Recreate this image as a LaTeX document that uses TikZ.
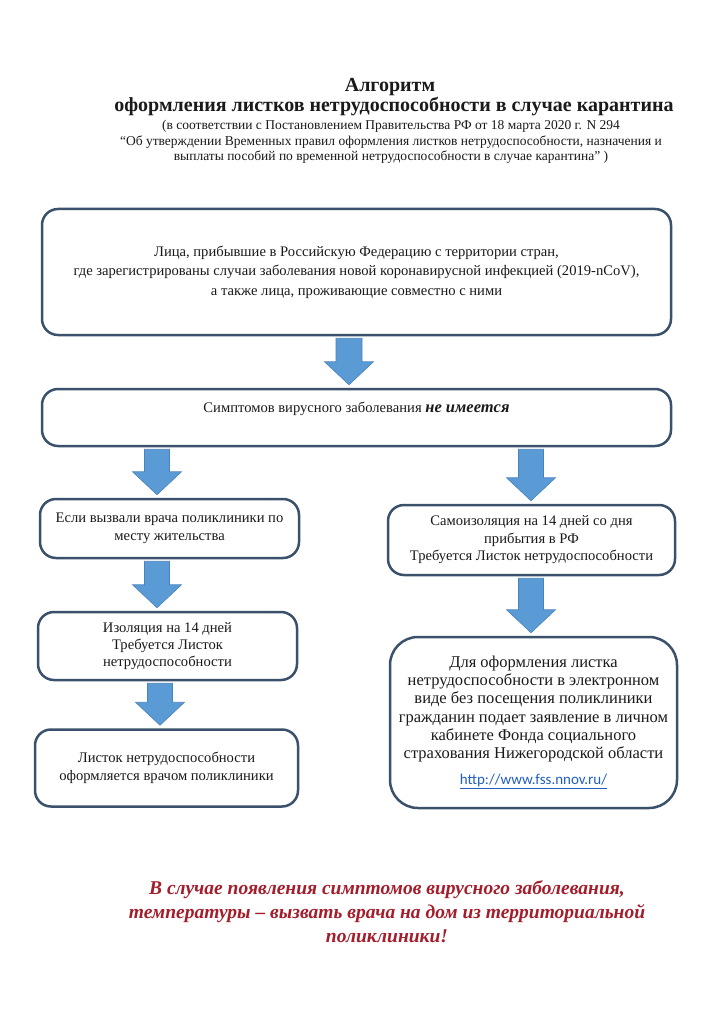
\documentclass[tikz,border=0pt]{standalone}
\usepackage{fontspec}
\setmainfont{Liberation Serif}
\newfontfamily\linkfont{Carlito}
\usetikzlibrary{calc}
\definecolor{bordercol}{HTML}{3B516B}
\definecolor{arrowfill}{HTML}{5B9BD5}
\definecolor{arrowedge}{HTML}{4A83BC}
\definecolor{warnred}{HTML}{A31D2B}
\definecolor{linkblue}{HTML}{1F5FBF}
\definecolor{textcol}{HTML}{1A1A1A}
\newcommand\fatarr[4]{%
  \filldraw[fatarrow] let \p1=(#1.south -| #3), \p2=(#2.north -| #3) in
   (\x1-#4,\y1-2pt) -- (\x1+#4,\y1-2pt) -- (\x1+#4,\y2+26pt) -- (\x1+24.5pt,\y2+26pt)
   -- (\x1,\y2+3pt) -- (\x1-24.5pt,\y2+26pt) -- (\x1-#4,\y2+26pt) -- cycle;}
\tikzset{
  box/.style={draw=bordercol, line width=2.5pt, rounded corners=16pt, fill=white,
    align=center, inner sep=0pt, text=textcol, font=\fontsize{14.6}{19.5}\selectfont},
  fatarrow/.style={fill=arrowfill, draw=arrowedge, line width=0.6pt, line join=miter},
  titletext/.style={align=center, text=textcol, inner sep=0pt},
}
\begin{document}
\begin{tikzpicture}[x=1pt,y=-1pt]
\fill[white] (0,0) rectangle (724,1024);
\useasboundingbox (0,0) rectangle (724,1024);

% titles
\node[titletext, font=\fontsize{20}{22}\selectfont\bfseries] (t1) at (390,87) {Алгоритм};
\node[titletext, font=\fontsize{20}{22}\selectfont\bfseries] (t2) at (394,107) {оформления листков нетрудоспособности в случае карантина};
\node[titletext, font=\fontsize{13.5}{15.5}\selectfont] (t3) at (391,142) {(в соответствии с Постановлением Правительства РФ от 18 марта 2020 г. N 294\\
“Об утверждении Временных правил оформления листков нетрудоспособности, назначения и\\
выплаты пособий по временной нетрудоспособности в случае карантина” )};

% boxes
\node[box, minimum width=629pt, minimum height=126pt] (b1) at (356.5,272)
 {Лица, прибывшие в Российскую Федерацию с территории стран,\\
 где зарегистрированы случаи заболевания новой коронавирусной инфекцией (2019-nCoV),\\
 а также лица, проживающие совместно с ними};
\node[box, minimum width=629pt, minimum height=57pt] (b2) at (356.5,417.5)
 {Симптомов вирусного заболевания {\fontsize{16.5}{19.5}\selectfont\bfseries\itshape не имеется}\\ \mbox{}};
\node[box, minimum width=259pt, minimum height=59pt, font=\fontsize{14.6}{18}\selectfont] (l1) at (169.5,528.5)
 {Если вызвали врача поликлиники по\\ месту жительства};
\node[box, minimum width=259pt, minimum height=68pt, font=\fontsize{14.6}{16.8}\selectfont] (l2) at (167.5,646)
 {Изоляция на 14 дней\\ Требуется Листок\\ нетрудоспособности};
\node[box, minimum width=263pt, minimum height=77pt, font=\fontsize{14.6}{18}\selectfont] (l3) at (166.5,768)
 {Листок нетрудоспособности\\ оформляется врачом поликлиники};
\node[box, minimum width=287pt, minimum height=70pt, font=\fontsize{14.6}{17.5}\selectfont] (r1) at (531.5,540)
 {Самоизоляция на 14 дней со дня\\ прибытия в РФ\\ Требуется Листок нетрудоспособности};
\node[box, rounded corners=28pt, minimum width=287pt, minimum height=171pt, font=\fontsize{16.5}{18.2}\selectfont] (r2) at (533.5,722.5)
 {Для оформления листка\\ нетрудоспособности в электронном\\ виде без посещения поликлиники\\
 гражданин подает заявление в личном\\ кабинете Фонда социального\\ страхования Нижегородской области\\[8pt]
 {\linkfont\fontsize{15}{18}\selectfont\color{linkblue}\underline{http://www.fss.nnov.ru/}}};

% arrow x positions
\coordinate (xa) at (349,0);
\coordinate (xb) at (157,0);
\coordinate (xc) at (531,0);
\coordinate (xd) at (160,0);

\fatarr{b1}{b2}{xa}{13pt}
\fatarr{b2}{l1}{xb}{12.5pt}
\fatarr{b2}{r1}{xc}{12.5pt}
\fatarr{l1}{l2}{xb}{12.5pt}
\fatarr{l2}{l3}{xd}{12.5pt}
\fatarr{r1}{r2}{xc}{12.5pt}

% warning
\node[titletext, text=warnred, font=\fontsize{19.5}{24}\selectfont\bfseries\itshape] (w) at (387,912)
 {В случае появления симптомов вирусного заболевания,\\
 температуры – вызвать врача на дом из территориальной\\ поликлиники!};
\end{tikzpicture}
\end{document}
